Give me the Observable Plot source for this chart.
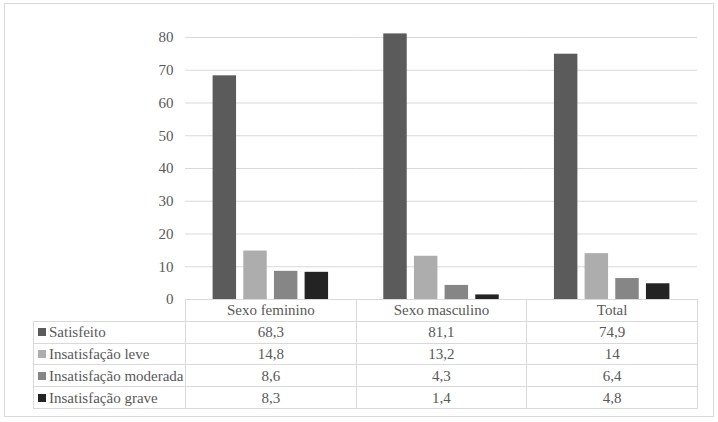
<!DOCTYPE html>
<html>
<head>
<meta charset="utf-8">
<script src="https://cdn.jsdelivr.net/npm/d3@7"></script>
<script src="https://cdn.jsdelivr.net/npm/@observablehq/plot@0.6"></script>
<style>
  body { margin: 0; background: #fff; }
  #wrap { position: relative; width: 718px; height: 422px; color: #595959; overflow: hidden; font-family: "Liberation Serif", "Times New Roman", serif; }
  #frame { position: absolute; left: 4px; top: 3px; width: 710px; height: 414px; border: 1px solid #d9d9d9; box-sizing: border-box; }
  #chart { position: absolute; left: 0; top: 0; }
  #chart svg { overflow: visible; }
  table.dt { position: absolute; left: 33px; top: 299px; border-collapse: collapse; table-layout: fixed; font-size: 15px; color: #595959; font-family: "Liberation Serif", "Times New Roman", serif; }
  table.dt td { border: 1px solid #d9d9d9; padding: 0; height: 20.8px; line-height: 20px; white-space: nowrap; overflow: hidden; }
  table.dt td.v { text-align: center; }
  table.dt td.lab { text-align: left; padding-left: 4px; }
  table.dt td.blank { border: none; }
  .sw { display: inline-block; width: 8px; height: 8px; margin-right: 3px; vertical-align: 1px; }
</style>
</head>
<body>
<div id="wrap">
  <div id="frame"></div>
  <div id="chart"></div>
</div>
<script>
const categories = ["Sexo feminino", "Sexo masculino", "Total"];
const series = ["Satisfeito", "Insatisfação leve", "Insatisfação moderada", "Insatisfação grave"];
const satisfeito = [68.3, 81.1, 74.9];
const leve = [14.8, 13.2, 14];
const moderada = [8.6, 4.3, 6.4];
const grave = [8.3, 1.4, 4.8];
const valueLabels = [["68,3", "81,1", "74,9"], ["14,8", "13,2", "14"], ["8,6", "4,3", "6,4"], ["8,3", "1,4", "4,8"]];
const colors = ["#5b5b5b", "#adadad", "#868686", "#232323"];
const yTicks = [0, 10, 20, 30, 40, 50, 60, 70, 80];

const seriesValues = [satisfeito, leve, moderada, grave];
const data = categories.flatMap((c, i) => series.map((s, j) => ({cat: c, serie: s, value: seriesValues[j][i]})));

const FONT = "'Liberation Serif', 'Times New Roman', serif";
const W = 718, mL = 185, mR = 21;
const chart = Plot.plot({
  width: W, height: 312,
  marginTop: 37, marginBottom: 13, marginLeft: mL, marginRight: mR,
  style: {fontFamily: FONT, fontSize: "15px", color: "#595959", background: "transparent", overflow: "visible"},
  fx: {domain: categories, padding: 0, round: false, axis: null, label: null},
  x: {domain: series, paddingInner: 0.235, paddingOuter: 0.9, round: false, axis: null, label: null},
  y: {domain: [0, 80], label: null, axis: null},
  color: {domain: series, range: colors},
  marks: [
    Plot.gridY(yTicks, {stroke: "#d9d9d9", strokeOpacity: 1, strokeWidth: 1.2}),
    Plot.axisY(yTicks, {tickSize: 0, tickPadding: 12, fill: "#595959", fontSize: 15, label: null}),
    Plot.barY(data, {fx: "cat", x: "serie", y: "value", fill: "serie"})
  ]
});
document.getElementById("chart").appendChild(chart);

// data table below the chart, columns aligned with the fx bands
const colW = (W - mL - mR) / categories.length;
const table = d3.select("#wrap").append("table").attr("class", "dt");
const cg = table.append("colgroup");
cg.append("col").style("width", (mL - 33) + "px");
categories.forEach(() => cg.append("col").style("width", colW + "px"));
const head = table.append("tr");
head.append("td").attr("class", "blank");
categories.forEach(c => head.append("td").attr("class", "v").text(c));
series.forEach((s, j) => {
  const tr = table.append("tr");
  const lab = tr.append("td").attr("class", "lab");
  lab.append("span").attr("class", "sw").style("background", colors[j]);
  lab.append("span").text(s);
  valueLabels[j].forEach(v => tr.append("td").attr("class", "v").text(v));
});
</script>
</body>
</html>
